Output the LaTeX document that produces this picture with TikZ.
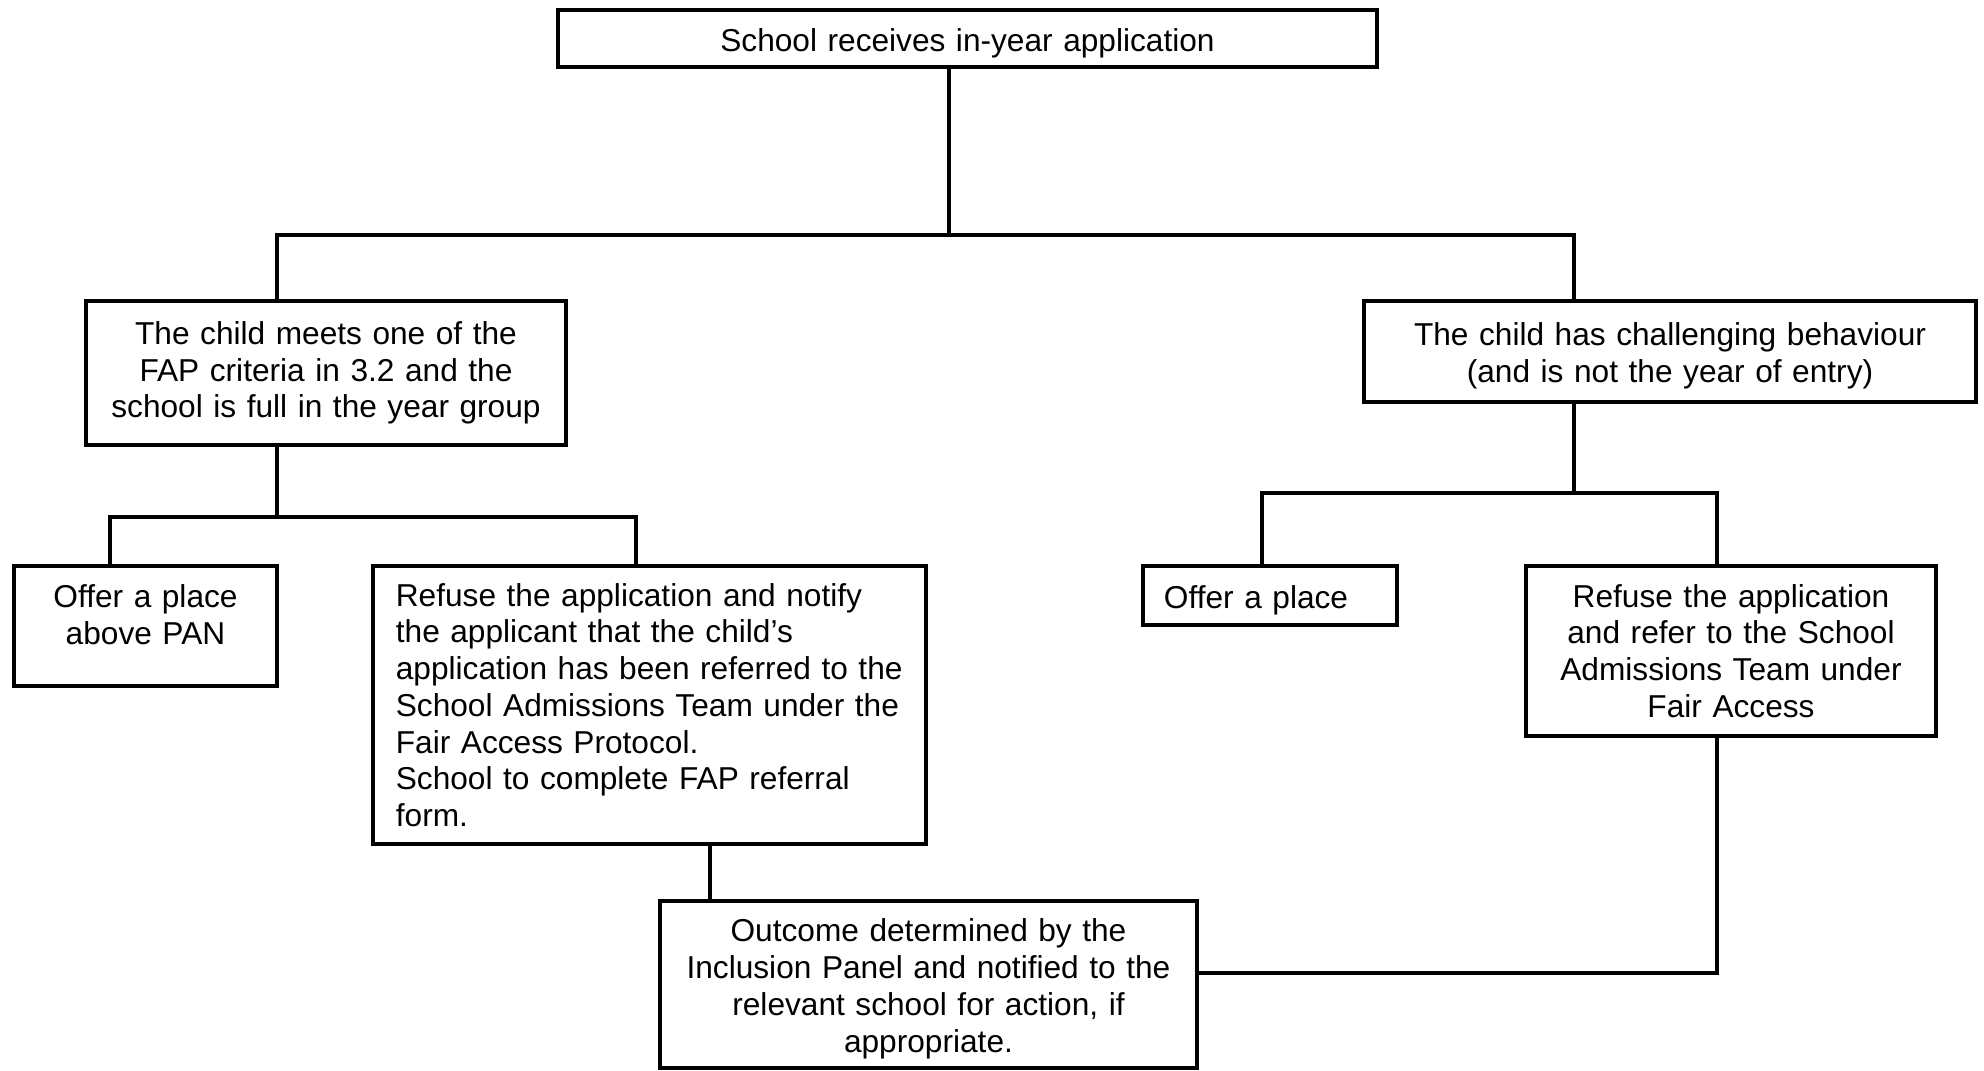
\documentclass[tikz,border=0pt]{standalone}
\usepackage{fontspec}
\setmainfont{Liberation Sans}
\usetikzlibrary{positioning,calc}

\begin{document}
\begin{tikzpicture}[x=0.01cm, y=-0.01cm, every node/.style={font=\fontsize{9}{10.45}\selectfont},
    stepbox/.style={draw, line width=1.15pt, inner xsep=0.2cm, inner ysep=2pt, align=center},
    lowtext/.style={execute at begin node={\rule{0pt}{9pt}}},
    link/.style={line width=0.95pt}]
        \useasboundingbox (0,0) rectangle (1984,1071);

        % Top
        \node[stepbox, lowtext, text width=7.79cm, minimum height=0.57cm] (top) at (967.5,38.5) {School receives in-year application};

        % Second row
        \node[stepbox, text width=4.40cm, minimum height=1.44cm] (crit) at (326,373) {The child meets one of the\\FAP criteria in 3.2 and the\\school is full in the year group};
        \node[stepbox, lowtext, text width=5.72cm, minimum height=1.01cm] (behav) at (1670,351.5) {The child has challenging behaviour\\(and is not the year of entry)};

        % Third row, left
        \node[stepbox, text width=2.23cm, minimum height=1.20cm] (pan) at (145.5,626) {Offer a place\\above PAN\rule[-6.5pt]{0pt}{6.5pt}};
        \node[stepbox, inner xsep=0.23cm, text width=5.07cm, minimum height=2.78cm, align=left] (refa) at (649.5,705) {Refuse the application and notify\\the applicant that the child’s\\application has been referred to the\\School Admissions Team under the\\Fair Access Protocol.\\School to complete FAP referral\\form.};

        % Third row, right
        \node[stepbox, lowtext, inner xsep=0.21cm, text width=2.12cm, minimum height=0.59cm, align=left] (place) at (1270,595.5) {Offer a place};
        \node[stepbox, text width=3.70cm, minimum height=1.70cm] (refb) at (1731,651) {Refuse the application\\and refer to the School\\Admissions Team under\\Fair Access};

        % Outcome
        \node[stepbox, lowtext, text width=4.97cm, minimum height=1.67cm] (outcome) at (928.5,984.5) {Outcome determined by the\\Inclusion Panel and notified to the\\relevant school for action, if\\appropriate.};

        % Junctions
        \coordinate (j1) at (949,235);
        \coordinate (bl) at (277,235);
        \coordinate (br) at (1574,235);
        \coordinate (cl) at (277,517);
        \coordinate (cll) at (110,517);
        \coordinate (clr) at (636,517);
        \coordinate (cr) at (1574,493);
        \coordinate (crl) at (1262,493);
        \coordinate (crr) at (1717,493);
        \coordinate (ol) at (710,0);
        \coordinate (orr) at (1717,973);

        \draw[link] (top.south -| j1) -- (j1);
        \draw[link] (crit.north -| bl) -- (bl) -- (br) -- (behav.north -| br);
        \draw[link] (crit.south -| cl) -- (cl);
        \draw[link] (pan.north -| cll) -- (cll) -- (clr) -- (refa.north -| clr);
        \draw[link] (behav.south -| cr) -- (cr);
        \draw[link] (place.north -| crl) -- (crl) -- (crr) -- (refb.north -| crr);
        \draw[link] (refa.south -| ol) -- (outcome.north -| ol);
        \draw[link] (refb.south -| orr) -- (orr) -- (outcome.east |- orr);
    \end{tikzpicture}
\end{document}
